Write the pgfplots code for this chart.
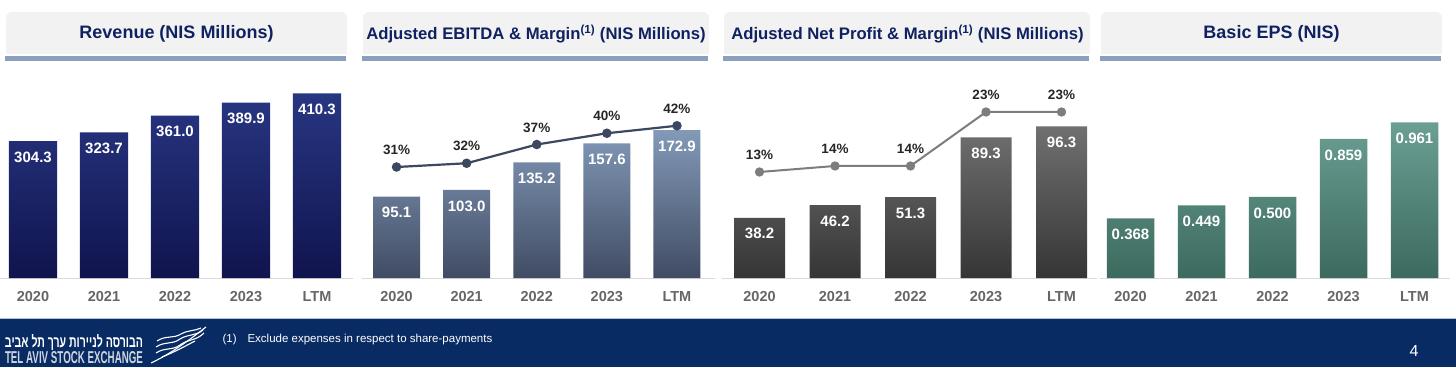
\documentclass[border=0pt]{standalone}
\usepackage{fontspec}
\setmainfont{Liberation Sans}
\newfontfamily\hebfont[Script=Hebrew]{Liberation Sans}
\TeXXeTstate=1
\usepackage{graphicx}
\usepackage{pgfplots}
\pgfplotsset{compat=1.18}
\definecolor{titlegrey}{RGB}{242,242,242}
\definecolor{titleblue}{RGB}{15,33,97}
\definecolor{ruleblue}{RGB}{139,160,190}
\definecolor{footerblue}{RGB}{8,43,99}
\definecolor{footerline}{RGB}{180,195,215}
\definecolor{baseg}{RGB}{217,217,217}
\definecolor{yeargrey}{RGB}{102,102,102}
\definecolor{pctcol}{RGB}{38,38,38}
\definecolor{aTop}{RGB}{40,54,130}
\definecolor{aBot}{RGB}{16,20,78}
\definecolor{bTop}{RGB}{130,153,184}
\definecolor{bBot}{RGB}{65,76,99}
\definecolor{bLine}{RGB}{59,72,96}
\definecolor{cTop}{RGB}{112,112,112}
\definecolor{cBot}{RGB}{53,53,53}
\definecolor{cLine}{RGB}{125,125,125}
\definecolor{dTop}{RGB}{107,159,148}
\definecolor{dBot}{RGB}{60,106,94}
\pgfplotsset{
  panel/.style={anchor=south west, scale only axis, height=198pt,
    xmin=-0.5, xmax=4.5, clip=false,
    axis x line*=bottom, axis y line=none, x axis line style={draw=none},
    ytick=\empty, xtick={0,1,2,3,4},
    xticklabels={2020,2021,2022,2023,LTM},
    major tick length=0pt,
    xticklabel style={anchor=center, yshift=-19pt, text=yeargrey,
      font=\bfseries\fontsize{14.5}{16}\selectfont},
    ybar, point meta=explicit symbolic,
    nodes near coords,
    every node near coord/.append style={anchor=center, yshift=-16pt,
      text=white, font=\bfseries\fontsize{15}{17}\selectfont},
  },
  lineax/.style={anchor=south west, scale only axis, height=198pt,
    xmin=-0.5, xmax=4.5, clip=false, hide axis,
    point meta=explicit symbolic, nodes near coords,
    every node near coord/.append style={anchor=center, yshift=17pt,
      text=pctcol, font=\bfseries\fontsize{13.5}{15}\selectfont},
  },
}
\newcommand\titlebox[3]{%
  \fill[titlegrey, rounded corners=6pt] (#1,313) rectangle (#2,355);
  \fill[titlegrey] (#1,313) rectangle (#2,330);
  \fill[ruleblue] (#1-1,306) rectangle (#2-1,310.5);
}
\begin{document}
\begin{tikzpicture}[x=1pt,y=1pt]
\path[use as bounding box] (0,0) rectangle (1456,367);
\fill[white] (0,0) rectangle (1456,367);
% title boxes
\titlebox{6}{347}{}
\titlebox{363}{709}{}
\titlebox{724}{1090}{}
\titlebox{1101}{1442}{}
\node[text=titleblue, font=\bfseries\fontsize{18}{20}\selectfont] at (176.5,333) {Revenue (NIS Millions)};
\node[text=titleblue, font=\bfseries\fontsize{16.7}{19}\selectfont] at (536,333) {Adjusted EBITDA \& Margin\textsuperscript{(1)} (NIS Millions)};
\node[text=titleblue, font=\bfseries\fontsize{16.7}{19}\selectfont] at (907.5,333) {Adjusted Net Profit \& Margin\textsuperscript{(1)} (NIS Millions)};
\node[text=titleblue, font=\bfseries\fontsize{18}{20}\selectfont] at (1271.5,333) {Basic EPS (NIS)};
% baselines
\draw[baseg, line width=1.5pt] (0,88.5) -- (353,88.5);
\draw[baseg, line width=1.5pt] (362,88.5) -- (715,88.5);
\draw[baseg, line width=1.5pt] (722,88.5) -- (1097,88.5);
\draw[baseg, line width=1.5pt] (1100,88.5) -- (1450,88.5);
% Panel 1
\begin{axis}[panel, at={(-2.5pt,89pt)}, width=355pt, ymin=0, ymax=440, bar width=48pt]
\addplot[draw=none, shade, top color=aTop, bottom color=aBot] coordinates {
 (0,304.3)[304.3] (1,323.7)[323.7] (2,361.0)[361.0] (3,389.9)[389.9] (4,410.3)[410.3]};
\end{axis}
% Panel 2
\begin{axis}[panel, at={(361.5pt,89pt)}, width=350.5pt, ymin=0, ymax=231.6, bar width=47pt]
\addplot[draw=none, shade, top color=bTop, bottom color=bBot] coordinates {
 (0,95.1)[95.1] (1,103.0)[103.0] (2,135.2)[135.2] (3,157.6)[157.6] (4,172.9)[172.9]};
\end{axis}
\begin{axis}[lineax, at={(361.5pt,89pt)}, width=350.5pt, ymin=1.41, ymax=54.2]
\addplot[color=bLine, line width=2.2pt, mark=*, mark size=3.6pt] coordinates {
 (0,31)[31\%] (1,32)[32\%] (2,37)[37\%] (3,40)[40\%] (4,42)[42\%]};
\end{axis}
% Panel 3
\begin{axis}[panel, at={(721.75pt,89pt)}, width=377.5pt, ymin=0, ymax=125.7, bar width=51pt]
\addplot[draw=none, shade, top color=cTop, bottom color=cBot] coordinates {
 (0,38.2)[38.2] (1,46.2)[46.2] (2,51.3)[51.3] (3,89.3)[89.3] (4,96.3)[96.3]};
\end{axis}
\begin{axis}[lineax, at={(721.75pt,89pt)}, width=377.5pt, ymin=-4.667, ymax=28.33]
\addplot[color=cLine, line width=2pt, mark=*, mark size=3.6pt] coordinates {
 (0,13)[13\%] (1,14)[14\%] (2,14)[14\%] (3,23)[23\%] (4,23)[23\%]};
\end{axis}
% Panel 4
\begin{axis}[panel, at={(1095pt,89pt)}, width=355pt, ymin=0, ymax=1.2222, bar width=47.5pt]
\addplot[draw=none, shade, top color=dTop, bottom color=dBot] coordinates {
 (0,0.368)[0.368] (1,0.449)[0.449] (2,0.500)[0.500] (3,0.859)[0.859] (4,0.961)[0.961]};
\end{axis}
% footer
\fill[footerblue] (0,0) rectangle (1456,48);
\draw[footerline, line width=1.5pt] (0,48.5) -- (1456,48.5);
\node[anchor=west, text=white, font=\fontsize{11.5}{13}\selectfont] at (219,27) {(1)};
\node[anchor=west, text=white, font=\fontsize{11.5}{13}\selectfont] at (244,27) {Exclude expenses in respect to share-payments};
\node[text=white, font=\fontsize{16}{18}\selectfont] at (1414,16) {4};
\node[text=white, inner sep=0pt] at (74,24) {\resizebox{138pt}{13pt}{\hebfont\bfseries\beginR הבורסה לניירות ערך תל אביב\endR}};
\node[text=white!80!footerblue, inner sep=0pt] at (74,9) {\resizebox{138pt}{12pt}{\bfseries TEL AVIV STOCK EXCHANGE}};
\begin{scope}[white, line width=1.1pt]
\draw (151,4) .. controls (172,14) and (188,26) .. (206,40);
\draw (156,14) .. controls (165,20) and (172,16) .. (180,22) .. controls (188,28) and (196,26) .. (204,34);
\draw (156,20) .. controls (165,26) and (172,22) .. (180,28) .. controls (188,33) and (196,31) .. (203,37);
\draw (157,26) .. controls (166,32) and (173,28) .. (181,33) .. controls (188,37) and (195,36) .. (201,39);
\draw (162,10) .. controls (172,14) and (180,18) .. (195,26);
\end{scope}
\end{tikzpicture}
\end{document}
